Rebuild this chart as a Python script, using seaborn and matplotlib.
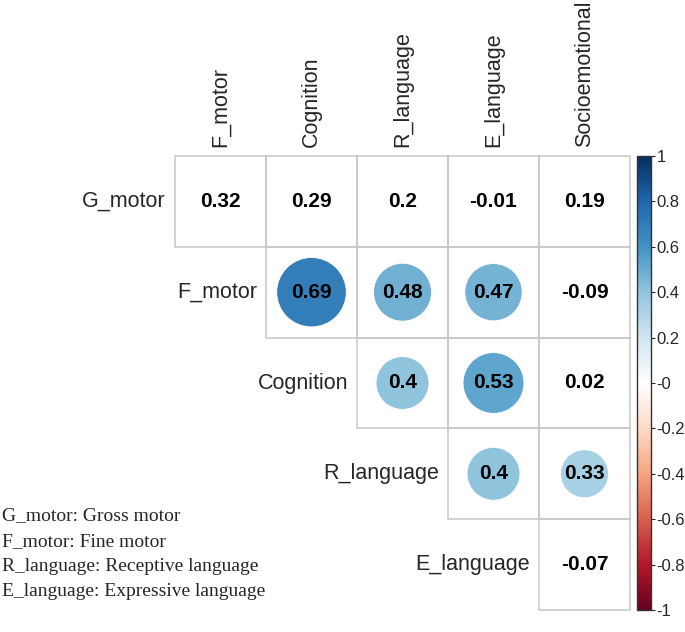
import numpy as np
import pandas as pd
import matplotlib
matplotlib.use("Agg")
import matplotlib.pyplot as plt
import seaborn as sns
from matplotlib.colors import LinearSegmentedColormap, ListedColormap, Normalize
from matplotlib.patches import Circle, Rectangle
import matplotlib.cm as cm

# data
rows = ["G_motor", "F_motor", "Cognition", "R_language", "E_language"]
cols = ["F_motor", "Cognition", "R_language", "E_language", "Socioemotional"]
r_gmotor = [0.32, 0.29, 0.2, -0.01, 0.19]
r_fmotor = [np.nan, 0.69, 0.48, 0.47, -0.09]
r_cognition = [np.nan, np.nan, 0.4, 0.53, 0.02]
r_rlanguage = [np.nan, np.nan, np.nan, 0.4, 0.33]
r_elanguage = [np.nan, np.nan, np.nan, np.nan, -0.07]
# 1 = significant (drawn as circle)
sig_gmotor = [0, 0, 0, 0, 0]
sig_fmotor = [0, 1, 1, 1, 0]
sig_cognition = [0, 0, 1, 1, 0]
sig_rlanguage = [0, 0, 0, 1, 1]
sig_elanguage = [0, 0, 0, 0, 0]
notes = ["G_motor: Gross motor", "F_motor: Fine motor",
         "R_language: Receptive language", "E_language: Expressive language"]

df = pd.DataFrame([r_gmotor, r_fmotor, r_cognition, r_rlanguage, r_elanguage],
                  index=rows, columns=cols)
sig = pd.DataFrame([sig_gmotor, sig_fmotor, sig_cognition, sig_rlanguage, sig_elanguage],
                   index=rows, columns=cols)

sns.set_style("white")
plt.rcParams["font.family"] = ["Liberation Sans", "DejaVu Sans"]

cmap = LinearSegmentedColormap.from_list(
    "corr_rdbu", ["#67001F", "#B2182B", "#D6604D", "#F4A582", "#FDDBC7", "#FFFFFF",
                  "#D1E5F0", "#92C5DE", "#4393C3", "#2166AC", "#053061"])
norm = Normalize(-1, 1)

fig = plt.figure(figsize=(6.85, 6.32), dpi=100)
ax = fig.add_axes([175 / 685, 22 / 632, 455 / 685, 454 / 632])

# white cells for the upper triangle
sns.heatmap(df.notna().astype(float) * 0, mask=df.isna(), cmap=ListedColormap(["white"]),
            vmin=0, vmax=1, cbar=False, linewidths=0,
            xticklabels=False, yticklabels=False, ax=ax)

for i, rname in enumerate(rows):
    for j, cname in enumerate(cols):
        r = df.loc[rname, cname]
        if np.isnan(r):
            continue
        # cell border
        ax.add_patch(Rectangle((j, i), 1, 1, facecolor="none", edgecolor="#c8c8c8",
                               lw=1.1, zorder=2, clip_on=False))
        if sig.loc[rname, cname]:
            ax.add_patch(Circle((j + 0.5, i + 0.5), 0.46 * np.sqrt(abs(r)),
                                facecolor=cmap(norm(r)), edgecolor="white", lw=0.6, zorder=3))
        ax.text(j + 0.5, i + 0.5, f"{r:g}", ha="center", va="center",
                fontsize=15, fontweight="bold", color="black", zorder=4)

# diagonal labels
for i, rname in enumerate(rows):
    ax.text(i - 0.1, i + 0.5, rname, ha="right", va="center", fontsize=15.5)
# column labels on top
for j, cname in enumerate(cols):
    ax.text(j + 0.5, -0.1, cname, rotation=90, ha="center", va="bottom", fontsize=15.5)

# colour legend
cax = fig.add_axes([637 / 685, 22 / 632, 14 / 685, 454 / 632])
ticks = np.round(np.arange(-1, 1.01, 0.2), 1)
cb = fig.colorbar(cm.ScalarMappable(norm=norm, cmap=cmap), cax=cax, ticks=ticks)
cb.ax.set_yticklabels([f"{t:g}" for t in ticks])
cb.outline.set_edgecolor("#333333")
cb.outline.set_linewidth(1)
cax.tick_params(length=3, width=0.8, pad=1, labelsize=12)

# abbreviations
for k, line in enumerate(notes):
    fig.text(0.003, 1 - (516 + 25.3 * k) / 632, line, ha="left", va="center",
             fontsize=14, family=["Liberation Serif", "DejaVu Serif"])

plt.savefig("out.png", dpi=100)
